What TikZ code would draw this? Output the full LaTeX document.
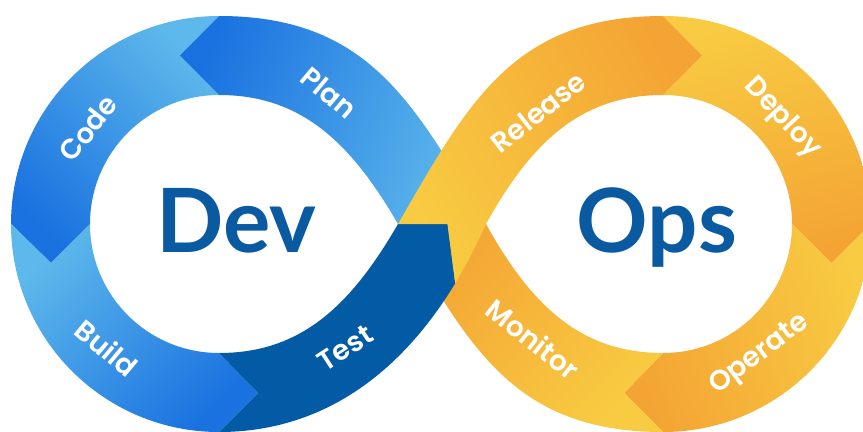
\documentclass[tikz,border=0pt]{standalone}
\usepackage{fontspec}
\setmainfont{Poppins}
\newfontfamily\lblfont{Poppins SemiBold}
\newfontfamily\titlefont{Lato}

\definecolor{bluedark}{HTML}{1A72E0}
\definecolor{bluelight}{HTML}{5DB8EB}
\definecolor{testblue}{HTML}{035AA5}
\definecolor{yell}{HTML}{F8CB42}
\definecolor{orng}{HTML}{F4A434}
\definecolor{textblue}{HTML}{0A5AA1}

\tikzset{
  lbl/.style={text=white, font=\lblfont\fontsize{28}{28}\selectfont},
  big/.style={text=textblue, anchor=base, font=\titlefont\fontsize{89}{89}\selectfont\bfseries}
}

\begin{document}
\begin{tikzpicture}[x=1bp,y=1bp]
        \useasboundingbox (0,0) rectangle (863,431);
        \clip (0,0) rectangle (863,431);
        % Code
        \shade[top color=bluelight, bottom color=bluedark, shading angle=-45]
          (219,415) arc[start angle=90, end angle=180, radius=208] -- (51,168) -- (90,207)
          arc[start angle=180, end angle=90, radius=129] -- (180,375.5) -- cycle;
        % Build
        \shade[top color=bluelight, bottom color=bluedark, shading angle=45]
          (11,207) arc[start angle=180, end angle=270, radius=208] -- (258,38) -- (219,78)
          arc[start angle=270, end angle=180, radius=129] -- (51,168) -- cycle;
        % Deploy
        \shade[top color=yell, bottom color=orng, shading angle=15]
          (663,415) arc[start angle=90, end angle=0, radius=208] -- (831.5,168) -- (792,207)
          arc[start angle=0, end angle=90, radius=129] -- (702,375.5) -- cycle;
        % Operate
        \shade[top color=yell, bottom color=orng, shading angle=-70]
          (871,207) arc[start angle=0, end angle=-90, radius=208] -- (624,38) -- (663,78)
          arc[start angle=-90, end angle=0, radius=129] -- (831.5,168) -- cycle;
        % Plan
        \shade[top color=bluedark, bottom color=bluelight, shading angle=70]
          (219,415) -- (180,375.5) -- (219,336) .. controls (300,336) and (350,290) .. (398,207)
          -- (486,207) .. controls (414,327) and (369,415) .. (219,415) -- cycle;
        % Monitor
        \shade[top color=orng, bottom color=yell, shading angle=45]
          (663,-1) -- (624,38) -- (663,78) .. controls (582,78) and (532,124) .. (486,207)
          -- (398,207) .. controls (468,86) and (513,-1) .. (663,-1) -- cycle;
        % Test
        \fill[testblue]
          (219,-1) -- (258,38) -- (219,78) .. controls (300,78) and (350,124) .. (398,207)
          -- (447.5,207) -- (455.2,147.7) .. controls (398.8,54.8) and (320,-1) .. (219,-1) -- cycle;
        % Release
        \shade[top color=orng, bottom color=yell, shading angle=-60]
          (398,207) .. controls (468,328) and (513,415) .. (663,415) -- (702,375.5) -- (663,336)
          .. controls (582,336) and (532,290) .. (486,207)
          .. controls (476.6,185.9) and (466.3,166.1) .. (455.2,147.7) -- (447.5,207) -- cycle;
        % Etichette
        \node[lbl, rotate=-40] (plan) at (329,338) {Plan};
        \node[lbl, rotate=52] (code) at (88,303) {Code};
        \node[lbl, rotate=-40] (build) at (107,83) {Build};
        \node[lbl, rotate=33] (test) at (345,83) {Test};
        \node[lbl, rotate=38] (release) at (538,319) {Release};
        \node[lbl, rotate=-47] (deploy) at (782,313) {Deploy};
        \node[lbl, rotate=37] (operate) at (760,76) {Operate};
        \node[lbl, rotate=-38] (monitor) at (533,92) {Monitor};
        % Dev e Ops
        \node[big] (dev) at (236,179) {Dev};
        \node[big] (ops) at (657,179) {Ops};
    \end{tikzpicture}
\end{document}
